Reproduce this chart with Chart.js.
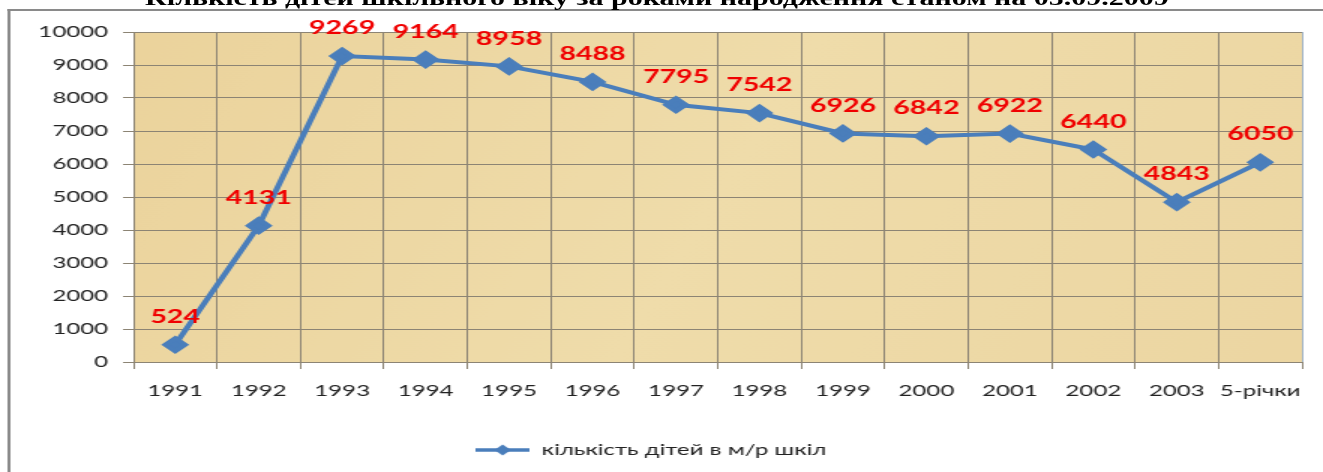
<!DOCTYPE html>
<html>
<head>
<meta charset="utf-8">
<script src="https://cdn.jsdelivr.net/npm/chart.js@4.4.1/dist/chart.umd.min.js"></script>
<style>
  html, body { margin: 0; padding: 0; background: #fff; overflow: hidden; }
  #stage {
    position: absolute; left: 0; top: 0;
    width: 882px; height: 472px;
    transform: scaleX(1.5); transform-origin: 0 0;
  }
  #frame {
    position: absolute; left: 4.7px; top: 9px; width: 900px; height: 480px;
    border-top: 2px solid #8a8a8a; border-left: 2px solid #8a8a8a;
  }
  #title {
    position: absolute; left: 0; top: -12px; width: 876px; text-align: center;
    font: bold 20px "Liberation Serif", serif; line-height: 20px; color: #000;
    white-space: nowrap;
  }
  #chartBox { position: absolute; left: 0; top: 0; width: 882px; height: 472px; }
</style>
</head>
<body>
<div id="stage">
  <div id="frame"></div>
  <div id="chartBox"><canvas id="chart"></canvas></div>
  <div id="title">Кількість дітей шкільного віку за роками народження станом на 05.09.2009</div>
</div>
<script>
const years = ['1991', '1992', '1993', '1994', '1995', '1996', '1997', '1998', '1999', '2000', '2001', '2002', '2003', '5-річки'];
const children = [524, 4131, 9269, 9164, 8958, 8488, 7795, 7542, 6926, 6842, 6922, 6440, 4843, 6050];
const seriesName = 'кількість дітей в м/р шкіл';

const lineBlue = '#4a7ebb';

// legend marker: short line with a diamond in the middle
const legendIcon = document.createElement('canvas');
legendIcon.width = 36;
legendIcon.height = 14;
(() => {
  const c = legendIcon.getContext('2d');
  c.strokeStyle = lineBlue;
  c.lineWidth = 3.5;
  c.beginPath();
  c.moveTo(0, 7);
  c.lineTo(36, 7);
  c.stroke();
  c.fillStyle = lineBlue;
  c.beginPath();
  c.moveTo(18, 1.5);
  c.lineTo(23.5, 7);
  c.lineTo(18, 12.5);
  c.lineTo(12.5, 7);
  c.closePath();
  c.fill();
})();

const plotBackground = {
  id: 'plotBackground',
  beforeDraw(chart) {
    const { ctx, chartArea: a } = chart;
    ctx.save();
    const g = ctx.createLinearGradient(a.left, a.top, a.right, a.bottom);
    g.addColorStop(0, '#ebd39c');
    g.addColorStop(0.5, '#efdcaa');
    g.addColorStop(1, '#ecd6a2');
    ctx.fillStyle = g;
    ctx.fillRect(a.left, a.top, a.right - a.left, a.bottom - a.top);
    ctx.restore();
  },
  afterDraw(chart) {
    const { ctx, chartArea: a } = chart;
    ctx.save();
    ctx.strokeStyle = '#9fb3c8';
    ctx.lineWidth = 1;
    ctx.beginPath();
    ctx.moveTo(a.right + 0.5, a.top);
    ctx.lineTo(a.right + 0.5, a.bottom);
    ctx.stroke();
    ctx.restore();
  }
};

const valueLabels = {
  id: 'valueLabels',
  afterDatasetsDraw(chart) {
    const { ctx } = chart;
    const meta = chart.getDatasetMeta(0);
    ctx.save();
    ctx.font = 'bold 19px Lato';
    ctx.fillStyle = '#f00000';
    ctx.textAlign = 'center';
    ctx.textBaseline = 'middle';
    meta.data.forEach((pt, i) => {
      ctx.fillText(String(children[i]), pt.x, pt.y - 28);
    });
    ctx.restore();
  }
};

new Chart(document.getElementById('chart'), {
  type: 'line',
  data: {
    labels: years,
    datasets: [{
      label: seriesName,
      data: children,
      borderColor: lineBlue,
      backgroundColor: lineBlue,
      borderWidth: 4,
      pointStyle: 'rectRot',
      pointRadius: 6.5,
      pointHoverRadius: 6.5,
      pointBackgroundColor: lineBlue,
      pointBorderColor: lineBlue,
      tension: 0
    }]
  },
  options: {
    responsive: true,
    maintainAspectRatio: false,
    animation: false,
    events: [],
    layout: { padding: { top: 32, right: 14, left: 0, bottom: 4 } },
    scales: {
      x: {
        offset: true,
        grid: { offset: true, color: '#8c8474', lineWidth: 1, tickLength: 7 },
        border: { color: '#8c8474' },
        ticks: { autoSkip: false, font: { family: 'Lato', size: 16 }, color: '#222', padding: 12, maxRotation: 0 },
        afterFit(s) { s.height = 70; }
      },
      y: {
        min: 0,
        max: 10000,
        ticks: {
          stepSize: 1000,
          font: { family: 'Lato', size: 16 },
          color: '#222',
          padding: 10,
          callback: v => String(v)
        },
        grid: { color: '#8c8474', lineWidth: 1, tickLength: 7 },
        border: { color: '#8c8474' },
        afterFit(s) { s.width = 89; }
      }
    },
    plugins: {
      legend: {
        position: 'bottom',
        labels: {
          usePointStyle: true,
          pointStyle: legendIcon,
          pointStyleWidth: 36,
          boxHeight: 14,
          color: '#222',
          font: { family: 'Lato', size: 16 }
        }
      },
      tooltip: { enabled: false }
    }
  },
  plugins: [plotBackground, valueLabels]
});
</script>
</body>
</html>
